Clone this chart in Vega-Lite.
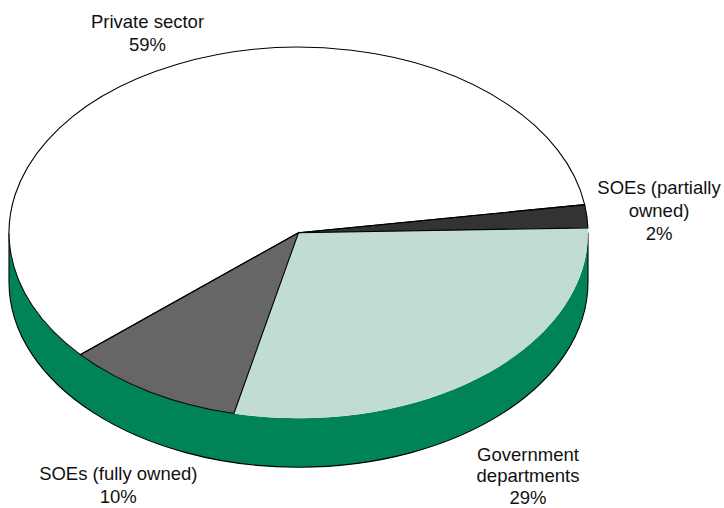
{
  "$schema": "https://vega.github.io/schema/vega-lite/v6.json",
  "width": 724,
  "height": 508,
  "padding": 0,
  "autosize": "none",
  "background": "white",
  "view": {"stroke": null},
  "data": {
    "values": [
      {"slice": "Government departments", "share": 29, "label": "Government\ndepartments\n29%"},
      {"slice": "SOEs (fully owned)", "share": 10, "label": "SOEs (fully owned)\n10%"},
      {"slice": "Private sector", "share": 59, "label": "Private sector\n59%"},
      {"slice": "SOEs (partially owned)", "share": 2, "label": "SOEs (partially\nowned)\n2%"}
    ]
  },
  "layer": [
    {
      "transform": [{"filter": "datum.slice === 'Private sector'"}],
      "mark": {
        "type": "point",
        "filled": true,
        "opacity": 1,
        "size": 335241,
        "fill": "#008457",
        "stroke": null,
        "shape": "M-1,0A1,0.6408 0 0 0 1,0L1,0.1693A1,0.6408 0 0 1 -1,0.1693Z"
      },
      "encoding": {
        "x": {"datum": 298.5, "type": "quantitative", "scale": {"domain": [0, 724]}, "axis": null},
        "y": {"datum": 232.7, "type": "quantitative", "scale": {"domain": [508, 0]}, "axis": null}
      }
    },
    {
      "transform": [{"filter": "datum.slice === 'Private sector'"}],
      "mark": {
        "type": "point",
        "filled": false,
        "opacity": 1,
        "size": 335241,
        "stroke": "#000000",
        "strokeWidth": 1.1,
        "shape": "M-1,0L-1,0.1693A1,0.6408 0 0 0 1,0.1693L1,0"
      },
      "encoding": {
        "x": {"datum": 298.5, "type": "quantitative", "scale": {"domain": [0, 724]}, "axis": null},
        "y": {"datum": 232.7, "type": "quantitative", "scale": {"domain": [508, 0]}, "axis": null}
      }
    },
    {
      "mark": {"type": "point", "filled": true, "opacity": 1, "size": 335241, "stroke": null},
      "encoding": {
        "x": {"datum": 298.5, "type": "quantitative", "scale": {"domain": [0, 724]}, "axis": null},
        "y": {"datum": 232.7, "type": "quantitative", "scale": {"domain": [508, 0]}, "axis": null},
        "shape": {
          "field": "slice",
          "type": "nominal",
          "legend": null,
          "scale": {
            "domain": ["Government departments", "SOEs (fully owned)", "Private sector", "SOEs (partially owned)"],
            "range": [
              "M0,0L0.9997,-0.0168A1,0.6408 0 0 1 -0.2233,0.6247Z",
              "M0,0L-0.2233,0.6247A1,0.6408 0 0 1 -0.7536,0.4213Z",
              "M0,0L-0.7536,0.4213A1,0.6408 0 1 1 0.9885,-0.0969Z",
              "M0,0L0.9885,-0.0969A1,0.6408 0 0 1 0.9997,-0.0168Z"
            ]
          }
        },
        "fill": {
          "field": "slice",
          "type": "nominal",
          "legend": null,
          "scale": {
            "domain": ["Government departments", "SOEs (fully owned)", "Private sector", "SOEs (partially owned)"],
            "range": ["#c1dcd0", "#666666", "#ffffff", "#333333"]
          }
        }
      }
    },
    {
      "transform": [{"filter": "datum.slice !== 'Government departments'"}],
      "mark": {"type": "point", "filled": false, "opacity": 1, "size": 335241, "stroke": "#000000", "strokeWidth": 1.1},
      "encoding": {
        "x": {"datum": 298.5, "type": "quantitative", "scale": {"domain": [0, 724]}, "axis": null},
        "y": {"datum": 232.7, "type": "quantitative", "scale": {"domain": [508, 0]}, "axis": null},
        "shape": {
          "field": "slice",
          "type": "nominal",
          "legend": null,
          "scale": {
            "domain": ["SOEs (fully owned)", "Private sector", "SOEs (partially owned)"],
            "range": [
              "M-0.2233,0.6247A1,0.6408 0 0 1 -0.7536,0.4213",
              "M0,0L-0.7536,0.4213A1,0.6408 0 1 1 0.9885,-0.0969Z",
              "M0,0L0.9885,-0.0969A1,0.6408 0 0 1 0.9997,-0.0168Z"
            ]
          }
        }
      }
    },
    {
      "transform": [{"filter": "datum.slice === 'Private sector'"}],
      "mark": {"type": "text", "font": "Liberation Sans", "fontSize": 18.5, "lineHeight": 23.2, "lineBreak": "\n", "align": "center", "baseline": "alphabetic", "fill": "#111111"},
      "encoding": {
        "x": {"datum": 147.5, "type": "quantitative", "scale": {"domain": [0, 724]}, "axis": null},
        "y": {"datum": 28, "type": "quantitative", "scale": {"domain": [508, 0]}, "axis": null},
        "text": {"field": "label"}
      }
    },
    {
      "transform": [{"filter": "datum.slice === 'SOEs (partially owned)'"}],
      "mark": {"type": "text", "font": "Liberation Sans", "fontSize": 18.5, "lineHeight": 23.2, "lineBreak": "\n", "align": "center", "baseline": "alphabetic", "fill": "#111111"},
      "encoding": {
        "x": {"datum": 659, "type": "quantitative", "scale": {"domain": [0, 724]}, "axis": null},
        "y": {"datum": 194, "type": "quantitative", "scale": {"domain": [508, 0]}, "axis": null},
        "text": {"field": "label"}
      }
    },
    {
      "transform": [{"filter": "datum.slice === 'SOEs (fully owned)'"}],
      "mark": {"type": "text", "font": "Liberation Sans", "fontSize": 18.5, "lineHeight": 23.2, "lineBreak": "\n", "align": "center", "baseline": "alphabetic", "fill": "#111111"},
      "encoding": {
        "x": {"datum": 118.3, "type": "quantitative", "scale": {"domain": [0, 724]}, "axis": null},
        "y": {"datum": 480, "type": "quantitative", "scale": {"domain": [508, 0]}, "axis": null},
        "text": {"field": "label"}
      }
    },
    {
      "transform": [{"filter": "datum.slice === 'Government departments'"}],
      "mark": {"type": "text", "font": "Liberation Sans", "fontSize": 18.5, "lineHeight": 21.8, "lineBreak": "\n", "align": "center", "baseline": "alphabetic", "fill": "#111111"},
      "encoding": {
        "x": {"datum": 528, "type": "quantitative", "scale": {"domain": [0, 724]}, "axis": null},
        "y": {"datum": 460.5, "type": "quantitative", "scale": {"domain": [508, 0]}, "axis": null},
        "text": {"field": "label"}
      }
    }
  ]
}
